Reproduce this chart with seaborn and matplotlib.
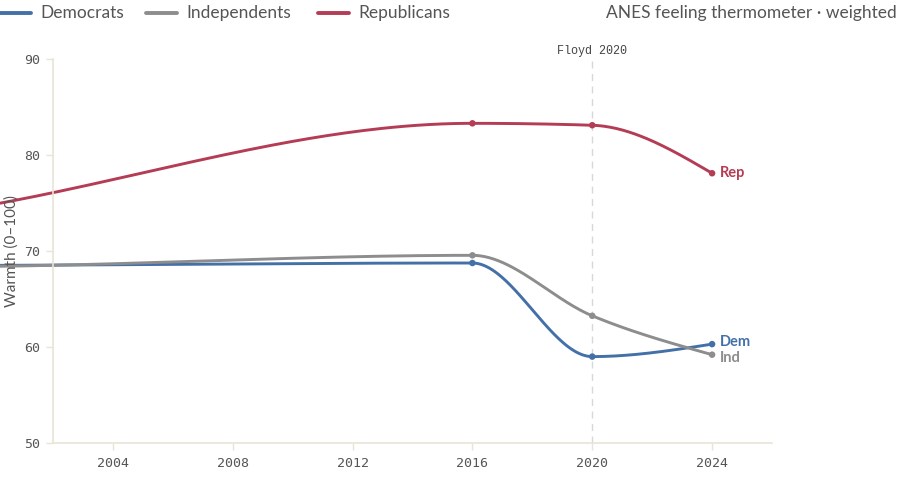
import numpy as np
import pandas as pd
import matplotlib
matplotlib.use("Agg")
import matplotlib.pyplot as plt
import seaborn as sns

years = [1992, 2000, 2016, 2020, 2024]
democrats = [68.4, 68.5, 68.75, 59.0, 60.3]
independents = [68.2, 68.4, 69.55, 63.25, 59.2]
republicans = [70.2, 74.85, 83.3, 83.1, 78.1]
series_names = ["Democrats", "Independents", "Republicans"]
end_labels = ["Dem", "Ind", "Rep"]
colors = {"Democrats": "#4470a8", "Independents": "#8d8d8d", "Republicans": "#b43c55"}
x_ticks = [2004, 2008, 2012, 2016, 2020, 2024]
y_ticks = [50, 60, 70, 80, 90]


def monotone_x(xs, ys, n=80):
    """d3 curveMonotoneX style interpolation for drawing the smooth path."""
    xs = np.asarray(xs, float); ys = np.asarray(ys, float)
    k = len(xs)
    h = np.diff(xs); s = np.diff(ys) / h
    t = np.zeros(k)
    for i in range(1, k - 1):
        p = (s[i - 1] * h[i] + s[i] * h[i - 1]) / (h[i - 1] + h[i])
        t[i] = (np.sign(s[i - 1]) + np.sign(s[i])) * min(abs(s[i - 1]), abs(s[i]), 0.5 * abs(p))
    t[0] = (3 * s[0] - t[1]) / 2
    t[-1] = (3 * s[-1] - t[-2]) / 2
    ox, oy = [], []
    for i in range(k - 1):
        u = np.linspace(0, 1, n)
        h00 = 2 * u**3 - 3 * u**2 + 1
        h10 = u**3 - 2 * u**2 + u
        h01 = -2 * u**3 + 3 * u**2
        h11 = u**3 - u**2
        y = h00 * ys[i] + h10 * h[i] * t[i] + h01 * ys[i + 1] + h11 * h[i] * t[i + 1]
        ox.extend(xs[i] + u * h[i]); oy.extend(y)
    return np.array(ox), np.array(oy)


sns.set_theme(style="white")
plt.rcParams["font.family"] = ["Lato", "DejaVu Sans"]

fig = plt.figure(figsize=(9, 4.91), dpi=100)
ax = fig.add_axes([53 / 900, (491 - 443) / 491, (772 - 53) / 900, (443 - 59) / 491])

data = {"Democrats": democrats, "Independents": independents, "Republicans": republicans}
curve_rows = []
point_rows = []
for name in series_names:
    cx, cy = monotone_x(years, data[name])
    for a, b in zip(cx, cy):
        curve_rows.append({"year": a, "value": b, "party": name})
    for a, b in zip(years, data[name]):
        if a >= 2002:
            point_rows.append({"year": a, "value": b, "party": name})
curves = pd.DataFrame(curve_rows)
points = pd.DataFrame(point_rows)

ax.axvline(2020, color="#d8d8d8", lw=1, ls=(0, (5, 4)), ymax=0.995, zorder=1)

sns.lineplot(data=curves, x="year", y="value", hue="party", palette=colors,
             linewidth=2.1, ax=ax, legend=False, sort=False, estimator=None)
for line in ax.lines:
    line.set_clip_on(False)
sns.scatterplot(data=points, x="year", y="value", hue="party", palette=colors,
                s=22, linewidth=0, ax=ax, legend=False, zorder=5)

ax.set_xlim(2002, 2026)
ax.set_ylim(50, 90)
ax.set_xticks(x_ticks)
ax.set_yticks(y_ticks)
ax.set_xlabel("")
ax.set_ylabel("")

for side in ["top", "right"]:
    ax.spines[side].set_visible(False)
for side in ["left", "bottom"]:
    ax.spines[side].set_color("#e8e4d6")
    ax.spines[side].set_linewidth(1.2)
ax.tick_params(axis="both", which="both", length=5, width=1, color="#e8e4d6",
               labelcolor="#555555", labelsize=9.5, left=True, bottom=True)
for lab in ax.get_xticklabels() + ax.get_yticklabels():
    lab.set_fontfamily("DejaVu Sans Mono")
ax.tick_params(axis="x", pad=5)
ax.tick_params(axis="y", pad=4)

fig.text(12 / 900, 1 - 251 / 491, "Warmth (0–100)", rotation=90, ha="center", va="center",
         fontsize=11, color="#555555", zorder=0)

ax.text(2020, 90.85, "Floyd 2020", ha="center", va="center", fontsize=8.5,
        family="Liberation Mono", color="#444444")

offsets = {"Dem": 0.25, "Ind": -0.3, "Rep": 0.0}
for name, lab in zip(series_names, end_labels):
    yv = data[name][-1]
    ax.text(2024.25, yv + offsets[lab], lab, color=colors[name], fontsize=10.5,
            fontweight="bold", ha="left", va="center")

# legend at top-left
lx = [0.0, 146 / 900, 318 / 900]
for (name, x0) in zip(series_names, lx):
    yfig = 1 - 13 / 491
    fig.add_artist(plt.Line2D([x0, x0 + 31 / 900], [yfig, yfig], color=colors[name], lw=2.8))
    fig.text(x0 + 40 / 900, yfig, name, ha="left", va="center", fontsize=12.5, color="#555555")

fig.text(897 / 900, 1 - 13 / 491, "ANES feeling thermometer · weighted", ha="right",
         va="center", fontsize=12.5, color="#555555")

fig.savefig("out.png", dpi=100)
